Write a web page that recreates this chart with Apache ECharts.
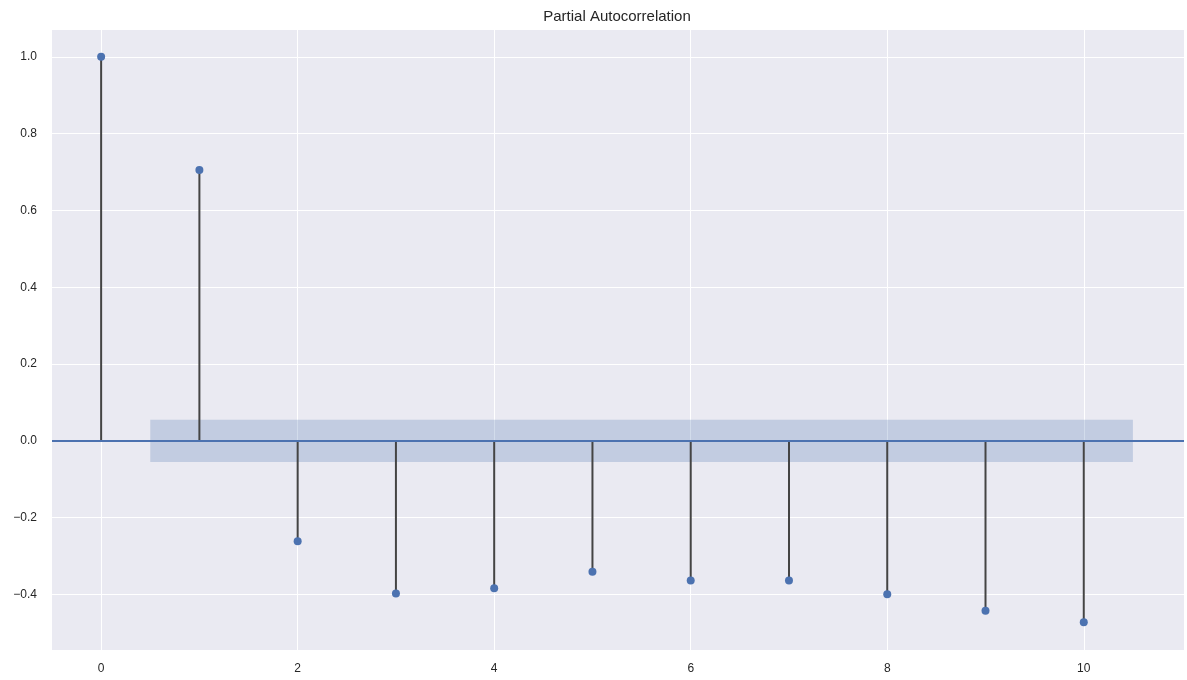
<!DOCTYPE html>
<html>
<head>
<meta charset="utf-8">
<script src="https://cdn.jsdelivr.net/npm/echarts@6/dist/echarts.min.js"></script>
<style>html,body{margin:0;padding:0;background:#fff}#c{width:1187px;height:680px}</style>
</head>
<body>
<div id="c"></div>
<script>
const lags = [0, 1, 2, 3, 4, 5, 6, 7, 8, 9, 10];
const pacf = [1.0, 0.705, -0.262, -0.398, -0.384, -0.341, -0.364, -0.364, -0.400, -0.443, -0.473];
const confLow = -0.055;
const confHigh = 0.055;
const confStart = 0.5;
const confEnd = 10.5;
const xTicks = [0, 2, 4, 6, 8, 10];
const yTicks = [-0.4, -0.2, 0.0, 0.2, 0.4, 0.6, 0.8, 1.0];
const titleText = 'Partial Autocorrelation';

const points = lags.map((l, i) => [l, pacf[i]]);
const font = '"Liberation Sans", Arial, sans-serif';
const textColor = '#262626';

const chart = echarts.init(document.getElementById('c'), null, {renderer: 'canvas'});
chart.setOption({
  backgroundColor: '#ffffff',
  animation: false,
  title: {
    text: titleText, left: 617, top: 9, padding: 0, textAlign: 'center',
    textStyle: {fontFamily: font, fontSize: 15, fontWeight: 'normal', color: textColor}
  },
  grid: {left: 52, right: 3, top: 30, bottom: 30, show: true, backgroundColor: '#EAEAF2', borderWidth: 0},
  xAxis: {
    type: 'value', min: -0.5, max: 11.02,
    axisLine: {show: false},
    axisTick: {show: false, customValues: xTicks},
    axisLabel: {customValues: xTicks, fontFamily: font, fontSize: 12, color: textColor, margin: 13},
    splitLine: {show: true, lineStyle: {color: '#ffffff', width: 1}}
  },
  yAxis: {
    type: 'value', min: -0.545, max: 1.07,
    axisLine: {show: false},
    axisTick: {show: false, customValues: yTicks},
    axisLabel: {
      customValues: yTicks, fontFamily: font, fontSize: 12, color: textColor, margin: 15,
      formatter: v => (v < 0 ? '\u2212' : '') + Math.abs(v).toFixed(1)
    },
    splitLine: {show: true, lineStyle: {color: '#ffffff', width: 1}}
  },
  series: [
    {
      type: 'custom',
      data: points,
      z: 2,
      renderItem: (params, api) => {
        const x = api.value(0), v = api.value(1);
        const p0 = api.coord([x, 0]);
        const p1 = api.coord([x, v]);
        return {type: 'line', shape: {x1: p0[0], y1: p0[1], x2: p1[0], y2: p1[1]},
                style: {stroke: '#444444', lineWidth: 2}};
      },
      markArea: {
        silent: true,
        itemStyle: {color: 'rgba(76,114,176,0.25)'},
        data: [[{xAxis: confStart, yAxis: confLow}, {xAxis: confEnd, yAxis: confHigh}]]
      }
    },
    {
      type: 'scatter',
      data: points,
      z: 4,
      symbol: 'circle',
      symbolSize: 8,
      itemStyle: {color: '#4C72B0', opacity: 1},
      markLine: {
        silent: true, symbol: 'none', label: {show: false},
        lineStyle: {color: '#4C72B0', width: 1.8, type: 'solid', opacity: 1},
        data: [{yAxis: 0}]
      }
    }
  ]
});
</script>
</body>
</html>
